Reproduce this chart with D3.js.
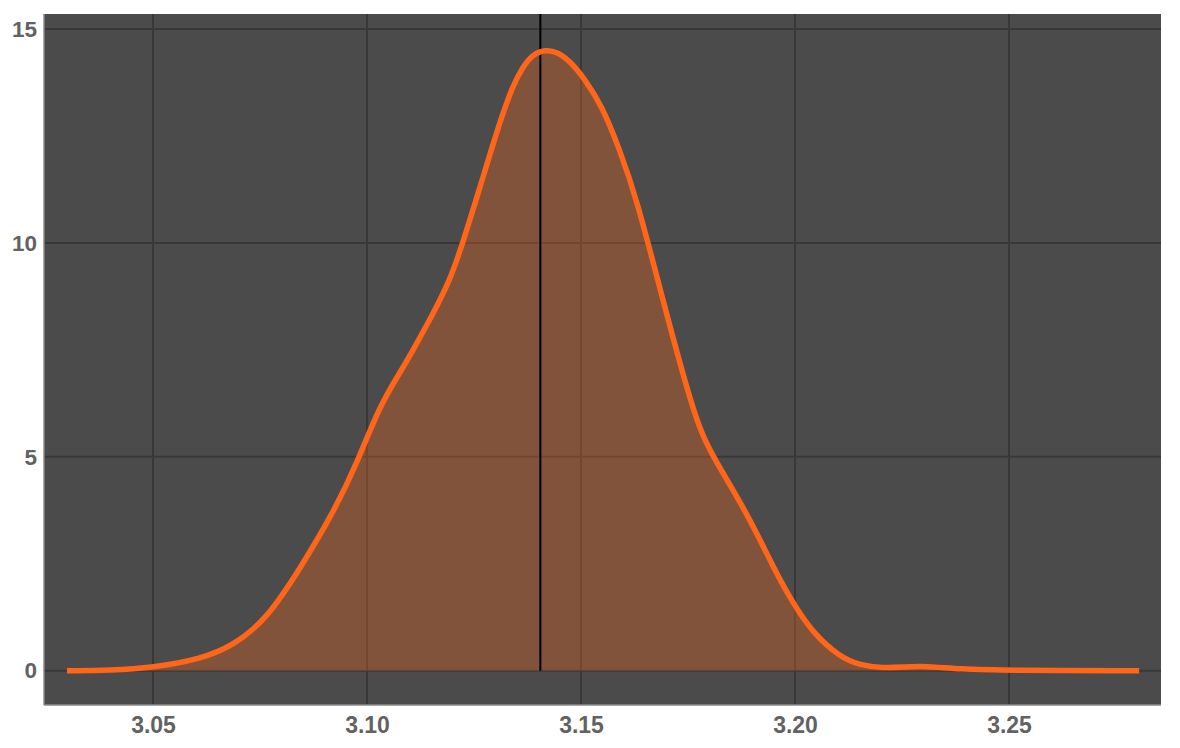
<!DOCTYPE html>
<html>
<head>
<meta charset="utf-8">
<script src="https://cdn.jsdelivr.net/npm/d3@7"></script>
<style>
  html, body { margin: 0; padding: 0; background: #ffffff; }
  svg { display: block; }
</style>
</head>
<body>
<svg id="chart" width="1180" height="748"></svg>
<script>
// Density curve (x, density)
const xs = [3.0299, 3.0400, 3.0500, 3.0610, 3.0687, 3.0766, 3.0843, 3.0921, 3.0977, 3.1030, 3.1082, 3.1105, 3.1152, 3.1194, 3.1224, 3.1269, 3.1308, 3.1341, 3.1364, 3.1386, 3.1416, 3.1446, 3.1474, 3.1509, 3.1549, 3.1589, 3.1631, 3.1685, 3.1748, 3.1778, 3.1808, 3.1888, 3.1949, 3.1995, 3.2042, 3.2105, 3.2152, 3.2206, 3.2257, 3.2304, 3.2386, 3.2495, 3.2804];
const ys = [0.00, 0.01, 0.07, 0.27, 0.58, 1.21, 2.38, 3.69, 4.86, 6.21, 7.05, 7.45, 8.30, 9.13, 10.00, 11.47, 12.76, 13.69, 14.11, 14.40, 14.52, 14.46, 14.25, 13.83, 13.20, 12.22, 11.00, 8.90, 6.56, 5.63, 5.00, 3.69, 2.42, 1.58, 0.88, 0.32, 0.13, 0.06, 0.09, 0.11, 0.04, 0.01, 0.00];
const meanLine = 3.1405;
const xTicks = [3.05, 3.10, 3.15, 3.20, 3.25];
const yTicks = [0, 5, 10, 15];

const svg = d3.select("#chart");
const L = 44, R = 1161, T = 14, B = 705;
const x = d3.scaleLinear().domain([3.02453, 3.28551]).range([L, R]);
const y = d3.scaleLinear().domain([-0.800, 15.35]).range([B, T]);

// background
svg.append("rect").attr("x", L).attr("y", T).attr("width", R - L).attr("height", B - T).attr("fill", "#4b4b4b");

// grid
const g = svg.append("g");
g.selectAll(".vx").data(xTicks).join("line")
  .attr("x1", d => x(d)).attr("x2", d => x(d)).attr("y1", T).attr("y2", B)
  .attr("stroke", "#383838").attr("stroke-width", 2);
g.selectAll(".hy").data(yTicks).join("line")
  .attr("x1", L).attr("x2", R).attr("y1", d => y(d)).attr("y2", d => y(d))
  .attr("stroke", "#383838").attr("stroke-width", 2);

const data = xs.map((v, i) => [v, ys[i]]);

// fill
const curve = d3.curveBasis;
const area = d3.area().x(d => x(d[0])).y0(y(0)).y1(d => y(d[1])).curve(curve);
svg.append("path").datum(data).attr("d", area).attr("fill", "#ff6619").attr("fill-opacity", 0.31);

// mean line
svg.append("line").attr("x1", x(meanLine)).attr("x2", x(meanLine)).attr("y1", T).attr("y2", y(0))
  .attr("stroke", "#000000").attr("stroke-width", 2);

// curve
const line = d3.line().x(d => x(d[0])).y(d => y(d[1])).curve(curve);
svg.append("path").datum(data).attr("d", line).attr("fill", "none")
  .attr("stroke", "#ff6619").attr("stroke-width", 5.5).attr("stroke-linejoin", "round");

// axes lines
svg.append("line").attr("x1", L).attr("x2", L).attr("y1", T).attr("y2", B).attr("stroke", "#8a8a8a").attr("stroke-width", 1.5);
svg.append("line").attr("x1", L).attr("x2", R).attr("y1", B).attr("y2", B).attr("stroke", "#8a8a8a").attr("stroke-width", 1.5);

// tick labels using d3 axes
const xAxis = d3.axisBottom(x).tickValues(xTicks).tickFormat(d3.format(".2f")).tickSize(0).tickPadding(0);
const xa = svg.append("g").attr("transform", `translate(0,${B})`).call(xAxis);
xa.select(".domain").remove();
xa.selectAll("text").attr("y", 20).attr("dy", "0.35em")
  .attr("fill", "#626262").attr("font-family", "Liberation Sans, Arial, sans-serif")
  .attr("font-weight", "bold").attr("font-size", 23);

const yAxis = d3.axisLeft(y).tickValues(yTicks).tickFormat(d3.format("d")).tickSize(0).tickPadding(0);
const ya = svg.append("g").attr("transform", `translate(${L},0)`).call(yAxis);
ya.select(".domain").remove();
ya.selectAll("text").attr("x", -7)
  .attr("fill", "#626262").attr("font-family", "Liberation Sans, Arial, sans-serif")
  .attr("font-weight", "bold").attr("font-size", 22.5);
</script>
</body>
</html>
